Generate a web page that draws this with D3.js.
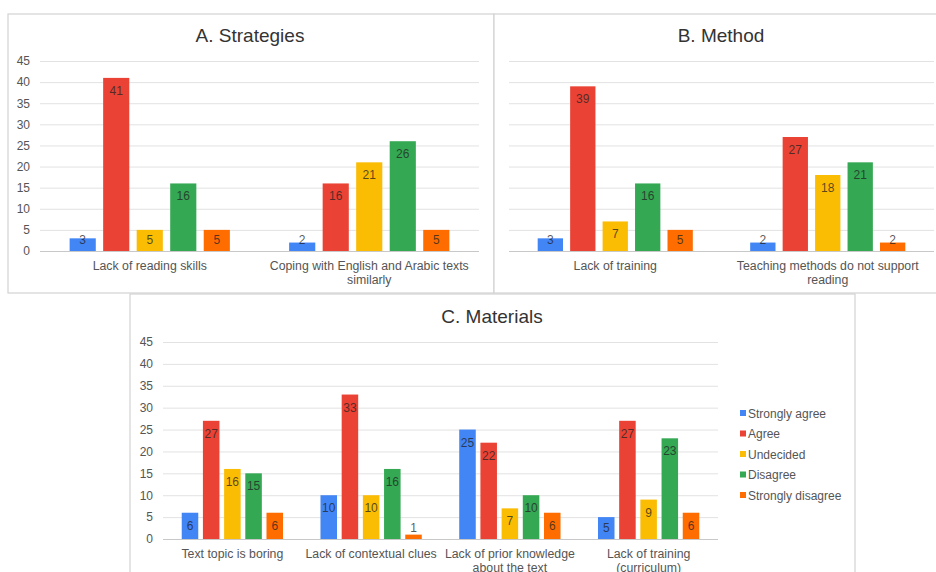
<!DOCTYPE html>
<html>
<head>
<meta charset="utf-8">
<script src="https://cdn.jsdelivr.net/npm/d3@7"></script>
<style>
  body { margin: 0; background: #fff; }
  svg { font-family: Arial, "Liberation Sans", sans-serif; }
</style>
</head>
<body>
<div id="chart"></div>
<script>
// series (legend) names and colours
const seriesNames = ["Strongly agree", "Agree", "Undecided", "Disagree", "Strongly disagree"];
const seriesColors = ["#4285F4", "#EA4335", "#FBBC04", "#34A853", "#FF6D01"];

const yTicks = [0, 5, 10, 15, 20, 25, 30, 35, 40, 45];

// A. Strategies
const strategiesCats = ["Lack of reading skills", "Coping with English and Arabic texts similarly"];
const strategiesValues = [
    [3, 2],    // Strongly agree
    [41, 16],  // Agree
    [5, 21],   // Undecided
    [16, 26],  // Disagree
    [5, 5]     // Strongly disagree
];

// B. Method
const methodCats = ["Lack of training", "Teaching methods do not support reading"];
const methodValues = [
    [3, 2],
    [39, 27],
    [7, 18],
    [16, 21],
    [5, 2]
];

// C. Materials
const materialsCats = ["Text topic is boring", "Lack of contextual clues", "Lack of prior knowledge about the text", "Lack of training (curriculum)"];
const materialsValues = [
    [6, 10, 25, 5],
    [27, 33, 22, 27],
    [16, 10, 7, 9],
    [15, 16, 10, 23],
    [6, 1, 6, 6]
];

const svg = d3.select("#chart").append("svg")
    .attr("width", 936)
    .attr("height", 572);

function wrap(text, width) {
    text.each(function() {
        let t = d3.select(this);
        let words = t.text().split(/\s+/);
        let line = [];
        let lineNo = 0;
        let x = t.attr("x");
        let y = t.attr("y");
        let tspan = t.text(null).append("tspan").attr("x", x).attr("y", y);
        words.forEach(w => {
            line.push(w);
            tspan.text(line.join(" "));
            if (tspan.node().getComputedTextLength() > width && line.length > 1) {
                line.pop();
                tspan.text(line.join(" "));
                line = [w];
                lineNo++;
                tspan = t.append("tspan").attr("x", x).attr("y", +y + lineNo * 14).text(w);
            }
        });
    });
}

function drawPanel(p) {
    // frame
    svg.append("rect")
        .attr("x", p.frame[0]).attr("y", p.frame[1])
        .attr("width", p.frame[2]).attr("height", p.frame[3])
        .attr("fill", "#fff")
        .attr("stroke", "#d3d3d3")
        .attr("stroke-width", 1.2);

    let g = svg.append("g");

    let y = d3.scaleLinear().domain([0, 45]).range([p.bottom, p.top]);
    let x0 = d3.scaleBand()
        .domain(p.cats)
        .range([p.left, p.right])
        .paddingInner(0.27)
        .paddingOuter(0.135);
    let x1 = d3.scaleBand()
        .domain(seriesNames)
        .range([0, x0.bandwidth()])
        .paddingInner(0.22);

    // gridlines + tick labels
    let yAxis = d3.axisLeft(y)
        .tickValues(yTicks)
        .tickSize(-(p.right - p.left))
        .tickPadding(10)
        .tickFormat(p.showTicks ? d3.format("d") : "");
    g.append("g")
        .attr("transform", `translate(${p.left},0)`)
        .call(yAxis)
        .call(a => a.select(".domain").remove())
        .call(a => a.selectAll(".tick line").attr("stroke", d => d === 0 ? "#c8c8c8" : "#e2e2e2"))
        .call(a => a.selectAll(".tick text").attr("fill", "#555").attr("font-size", 12));

    // title
    g.append("text")
        .attr("x", p.titleX).attr("y", p.titleY)
        .attr("text-anchor", "middle")
        .attr("font-size", 19)
        .attr("fill", "#333")
        .text(p.title);

    // bars
    let rows = [];
    p.values.forEach((vals, si) => {
        vals.forEach((v, ci) => rows.push({series: seriesNames[si], si: si, cat: p.cats[ci], value: v}));
    });

    g.append("g").selectAll("rect")
        .data(rows)
        .join("rect")
        .attr("x", d => x0(d.cat) + x1(d.series))
        .attr("y", d => y(d.value))
        .attr("width", x1.bandwidth())
        .attr("height", d => y(0) - y(d.value))
        .attr("fill", d => seriesColors[d.si]);

    // data labels
    g.append("g").selectAll("text")
        .data(rows)
        .join("text")
        .attr("x", d => x0(d.cat) + x1(d.series) + x1.bandwidth() / 2)
        .attr("y", d => Math.min(y(d.value) + 12.5, y(0) - 12) + 4.5)
        .attr("text-anchor", "middle")
        .attr("font-size", 12)
        .attr("fill", "#222")
        .attr("fill-opacity", 0.75)
        .text(d => d.value);

    // category labels
    g.append("g").selectAll("text")
        .data(p.cats)
        .join("text")
        .attr("x", d => x0(d) + x0.bandwidth() / 2)
        .attr("y", p.bottom + 19)
        .attr("text-anchor", "middle")
        .attr("font-size", 12.3)
        .attr("fill", "#555")
        .text(d => d)
        .call(wrap, x0.step());
}

drawPanel({
    frame: [8, 14, 486, 279],
    title: "A. Strategies", titleX: 250, titleY: 42,
    cats: strategiesCats, values: strategiesValues,
    left: 40, right: 479, top: 61, bottom: 251,
    showTicks: true
});

drawPanel({
    frame: [494, 14, 460, 279],
    title: "B. Method", titleX: 721, titleY: 42,
    cats: methodCats, values: methodValues,
    left: 509, right: 934, top: 61, bottom: 251,
    showTicks: false
});

drawPanel({
    frame: [130, 294, 725, 300],
    title: "C. Materials", titleX: 492, titleY: 323,
    cats: materialsCats, values: materialsValues,
    left: 163, right: 718, top: 342, bottom: 539,
    showTicks: true
});

// legend
let legend = svg.append("g").attr("transform", "translate(740,413)");
let item = legend.selectAll("g")
    .data(seriesNames)
    .join("g")
    .attr("transform", (d, i) => `translate(0,${i * 20.5})`);
item.append("rect")
    .attr("x", 0).attr("y", -3)
    .attr("width", 6).attr("height", 6)
    .attr("fill", (d, i) => seriesColors[i]);
item.append("text")
    .attr("x", 8).attr("y", 4.5)
    .attr("font-size", 12)
    .attr("fill", "#555")
    .text(d => d);
</script>
</body>
</html>
